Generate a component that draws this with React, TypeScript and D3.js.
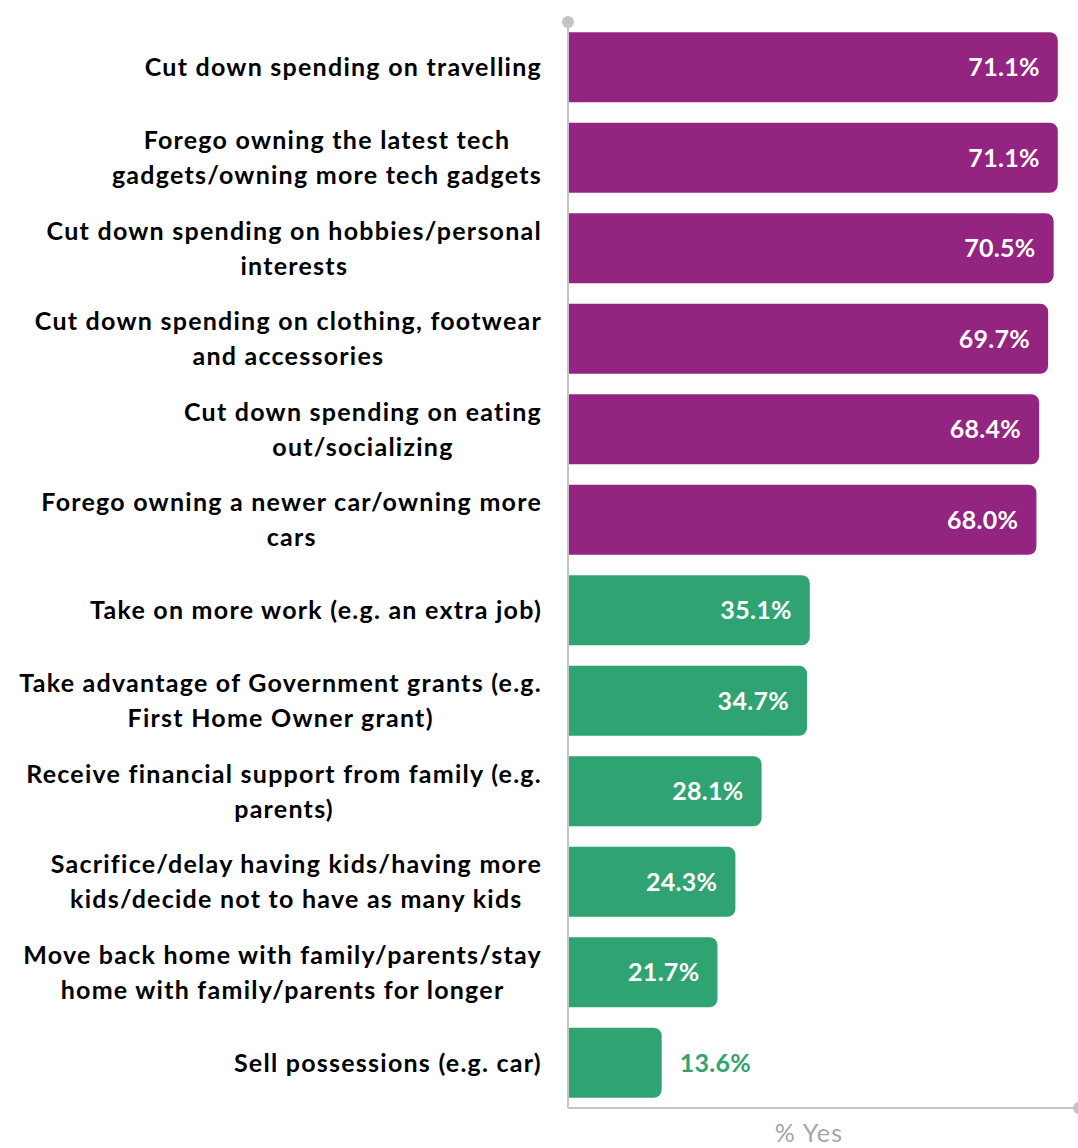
import React, { useEffect, useRef } from "react";
import * as d3 from "d3";

const categories: string[][] = [
  ["Cut down spending on travelling"],
  ["Forego owning the latest tech", "gadgets/owning more tech gadgets"],
  ["Cut down spending on hobbies/personal", "interests"],
  ["Cut down spending on clothing, footwear", "and accessories"],
  ["Cut down spending on eating", "out/socializing"],
  ["Forego owning a newer car/owning more", "cars"],
  ["Take on more work (e.g. an extra job)"],
  ["Take advantage of Government grants (e.g.", "First Home Owner grant)"],
  ["Receive financial support from family (e.g.", "parents)"],
  ["Sacrifice/delay having kids/having more", "kids/decide not to have as many kids"],
  ["Move back home with family/parents/stay", "home with family/parents for longer"],
  ["Sell possessions (e.g. car)"],
];
const values: number[] = [71.1, 71.1, 70.5, 69.7, 68.4, 68.0, 35.1, 34.7, 28.1, 24.3, 21.7, 13.6];
const groups: string[] = ["a", "a", "a", "a", "a", "a", "b", "b", "b", "b", "b", "b"];
const xMax = 73.6;
const axisTitle = "% Yes";

const W = 1078;
const H = 1148;
const FONT = "Lato, 'Open Sans', sans-serif";

export default function App() {
  const ref = useRef<SVGSVGElement>(null);
  useEffect(() => {
    const svg = d3.select(ref.current);
    svg.selectAll("*").remove();
    const x0 = 568;
    const x = d3.scaleLinear().domain([0, xMax]).range([x0, 1075]);
    const y = d3
      .scaleBand<number>()
      .domain(d3.range(categories.length))
      .range([22, 1108])
      .paddingInner(0.227)
      .paddingOuter(0.1135);
    const color = d3.scaleOrdinal<string, string>().domain(["a", "b"]).range(["#93247f", "#2fa372"]);
    const r = 8;
    const bh = y.bandwidth();

    const barPath = (v: number, i: number) => {
      const yt = y(i)!;
      const xr = x(v);
      const p = d3.path();
      p.moveTo(x0, yt);
      p.lineTo(xr - r, yt);
      p.arcTo(xr, yt, xr, yt + r, r);
      p.lineTo(xr, yt + bh - r);
      p.arcTo(xr, yt + bh, xr - r, yt + bh, r);
      p.lineTo(x0, yt + bh);
      p.closePath();
      return p.toString();
    };

    svg
      .append("g")
      .selectAll("path")
      .data(values)
      .join("path")
      .attr("d", (v, i) => barPath(v, i))
      .attr("fill", (_, i) => color(groups[i]));

    // axes
    const axisColor = "#c4c4c4";
    svg.append("line").attr("x1", x0).attr("x2", x0).attr("y1", 22).attr("y2", 1108).attr("stroke", axisColor).attr("stroke-width", 2);
    svg.append("line").attr("x1", x0).attr("x2", x(xMax)).attr("y1", 1108).attr("y2", 1108).attr("stroke", axisColor).attr("stroke-width", 2);
    svg.append("circle").attr("cx", x0).attr("cy", 22).attr("r", 6).attr("fill", axisColor);
    svg.append("circle").attr("cx", x(xMax) + 4).attr("cy", 1108).attr("r", 6).attr("fill", axisColor);

    // value labels
    svg
      .append("g")
      .selectAll("text")
      .data(values)
      .join("text")
      .attr("x", (v) => (v < 20 ? x(v) + 18 : x(v) - 18))
      .attr("y", (_, i) => y(i)! + bh / 2)
      .attr("dy", "0.36em")
      .attr("text-anchor", (v) => (v < 20 ? "start" : "end"))
      .attr("font-family", FONT)
      .attr("font-weight", "bold")
      .attr("font-size", 25)
      .attr("letter-spacing", 0.3)
      .attr("fill", (v, i) => (v < 20 ? color(groups[i]) : "#ffffff"))
      .text((v) => v.toFixed(1) + "%");

    // category labels
    const labelRight = 542;
    const lineH = 35;
    const lg = svg.append("g");
    categories.forEach((lines, i) => {
      const cy = y(i)! + bh / 2;
      const texts = lines.map((ln, k) =>
        lg
          .append("text")
          .attr("y", cy + (k - (lines.length - 1) / 2) * lineH)
          .attr("dy", "0.36em")
          .attr("text-anchor", "middle")
          .attr("font-family", FONT)
          .attr("font-weight", "bold")
          .attr("font-size", 25)
          .attr("letter-spacing", 1.25)
          .attr("fill", "#000")
          .text(ln)
      );
      const widths = texts.map((t) => (t.node() as SVGTextElement).getComputedTextLength());
      const bw = Math.max(...widths);
      texts.forEach((t) => t.attr("x", labelRight - bw / 2));
    });

    svg
      .append("text")
      .attr("x", 809)
      .attr("y", 1142)
      .attr("text-anchor", "middle")
      .attr("font-family", FONT)
      .attr("font-size", 25)
      .attr("letter-spacing", 1.2)
      .attr("fill", "#a6a6a6")
      .text(axisTitle);
  }, []);

  return (
    <svg
      ref={ref}
      width={W}
      height={H}
      style={{ position: "absolute", left: 0, top: 0, background: "#fff" }}
    />
  );
}
